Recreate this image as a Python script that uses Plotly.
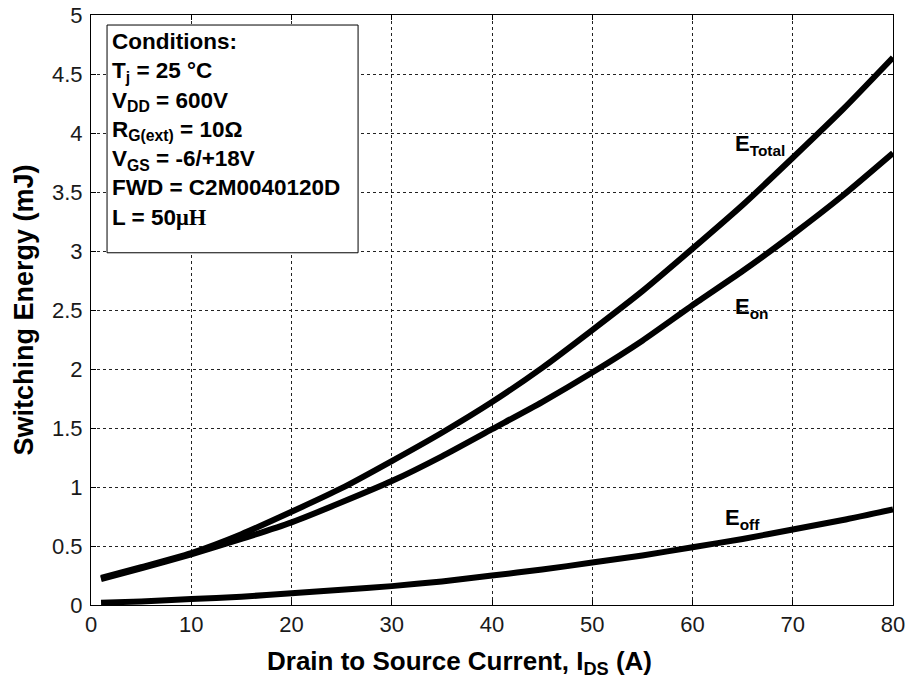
import plotly.graph_objects as go

# Drain-source current (A)
ids = [1, 5, 10, 15, 20, 25, 30, 35, 40, 45, 50, 55, 60, 65, 70, 75, 80]

# Switching energies (mJ)
e_total = [0.23, 0.32, 0.44, 0.60, 0.79, 0.99, 1.22, 1.46, 1.72, 2.01, 2.33, 2.66, 3.02, 3.39, 3.79, 4.20, 4.64]
e_on = [0.22, 0.31, 0.43, 0.56, 0.70, 0.87, 1.05, 1.26, 1.49, 1.72, 1.97, 2.24, 2.54, 2.83, 3.14, 3.47, 3.83]
e_off = [0.02, 0.03, 0.05, 0.07, 0.10, 0.13, 0.16, 0.20, 0.25, 0.30, 0.36, 0.42, 0.49, 0.56, 0.64, 0.72, 0.81]

x_ticks = [0, 10, 20, 30, 40, 50, 60, 70, 80]
y_ticks = [0, 0.5, 1, 1.5, 2, 2.5, 3, 3.5, 4, 4.5, 5]
y_tick_text = ["0", "0.5", "1", "1.5", "2", "2.5", "3", "3.5", "4", "4.5", "5"]

conditions = [
    "Conditions:",
    "T<sub>j</sub> = 25 °C",
    "V<sub>DD</sub> = 600V",
    "R<sub>G(ext)</sub> = 10Ω",
    "V<sub>GS</sub> = -6/+18V",
    "FWD = C2M0040120D",
    "L = 50<span style='font-family:Liberation Serif, Times New Roman, serif'>μH</span>",
]

FONT = "Liberation Sans, Arial, sans-serif"

fig = go.Figure()
for series in (e_total, e_on, e_off):
    fig.add_trace(go.Scatter(
        x=ids, y=series, mode="lines",
        line=dict(color="black", width=6, shape="spline", smoothing=0.6),
        showlegend=False, hoverinfo="skip",
    ))

axis_common = dict(
    automargin=False,
    showline=True, linecolor="black", linewidth=1, mirror="ticks",
    ticks="inside", ticklen=5, tickcolor="black",
    showgrid=True, gridcolor="#222", gridwidth=1, griddash="3px,3px",
    zeroline=False,
    tickfont=dict(family=FONT, size=22, color="#1a1a1a"),
)

fig.update_xaxes(range=[0, 80], tickvals=x_ticks, **axis_common)
fig.update_yaxes(
    range=[0, 5], tickvals=y_ticks, ticktext=y_tick_text, **axis_common,
    ticklabelstandoff=3,
    title=dict(text="<b>Switching Energy (mJ)</b>",
               font=dict(family=FONT, size=27, color="black"), standoff=10),
)

# x-axis title, set slightly left of the plot centre
fig.add_annotation(
    xref="paper", yref="paper", x=0.459, y=-0.098, xanchor="center", yanchor="middle",
    showarrow=False,
    text="<b>Drain to Source Current, I<sub>DS</sub> (A)</b>",
    font=dict(family=FONT, size=26, color="black"),
)

# Conditions box
fig.add_shape(type="rect", xref="paper", yref="paper",
              x0=0.020, x1=0.333, y0=0.597, y1=0.983,
              line=dict(color="black", width=1), fillcolor="white", layer="above")
fig.add_annotation(
    xref="paper", yref="paper", x=0.024, y=0.980, xanchor="left", yanchor="top",
    align="left", showarrow=False,
    text="<b>" + "<br>".join(conditions) + "</b>",
    font=dict(family=FONT, size=22.5, color="black"),
)

# Curve labels
labels = [("E<sub>Total</sub>", 64.0, 3.90), ("E<sub>on</sub>", 64.0, 2.52), ("E<sub>off</sub>", 63.0, 0.73)]
for txt, lx, ly in labels:
    fig.add_annotation(x=lx, y=ly, xanchor="left", yanchor="middle", showarrow=False,
                       text="<b>" + txt + "</b>",
                       font=dict(family=FONT, size=22, color="black"))

fig.update_layout(
    width=909, height=688,
    margin=dict(l=91, r=16, t=15, b=83),
    paper_bgcolor="white", plot_bgcolor="white",
)

fig.write_html("out.html")
